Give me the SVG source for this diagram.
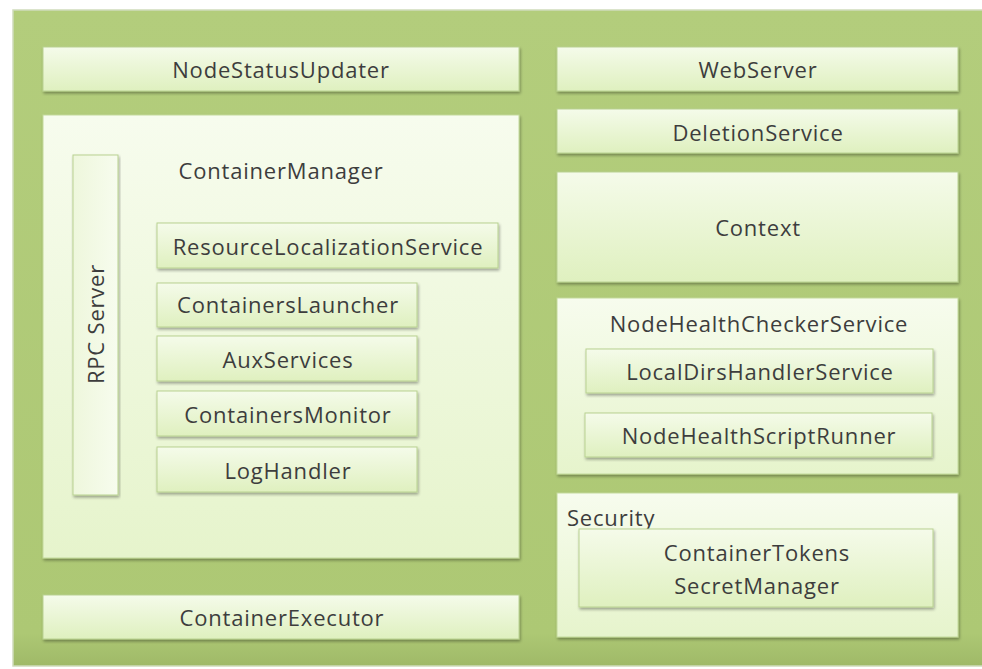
<svg xmlns="http://www.w3.org/2000/svg" width="982" height="669" viewBox="0 0 982 669">
  <defs>
    <linearGradient id="boxFill" x1="0" y1="0" x2="0" y2="1">
      <stop offset="0" stop-color="#f5fbea"/>
      <stop offset="1" stop-color="#dff0bf"/>
    </linearGradient>
    <linearGradient id="bigFill" x1="0" y1="0" x2="0" y2="1">
      <stop offset="0" stop-color="#f7fcee"/>
      <stop offset="1" stop-color="#e6f4cc"/>
    </linearGradient>
    <linearGradient id="vFill" x1="0" y1="0" x2="1" y2="0">
      <stop offset="0" stop-color="#eef7dc"/>
      <stop offset="1" stop-color="#f7fcee"/>
    </linearGradient>
    <linearGradient id="frameFill" x1="0" y1="0" x2="0" y2="1">
      <stop offset="0" stop-color="#b3cd7c"/>
      <stop offset="0.95" stop-color="#adc874"/>
      <stop offset="1" stop-color="#9fb968"/>
    </linearGradient>
    <filter id="shadow" x="-5%" y="-5%" width="110%" height="115%">
      <feGaussianBlur in="SourceAlpha" stdDeviation="1.5"/>
      <feOffset dx="1" dy="2" result="b"/>
      <feComponentTransfer><feFuncA type="linear" slope="0.35"/></feComponentTransfer>
      <feMerge><feMergeNode/><feMergeNode in="SourceGraphic"/></feMerge>
    </filter>
  </defs>
  <style>
    .box { fill: url(#boxFill); stroke: #b9d291; stroke-width: 1; filter: url(#shadow); }
    .big { fill: url(#bigFill); stroke: #c3da9c; stroke-width: 1; filter: url(#shadow); }
    .lbl { font-family: "Open Sans", Lato, "Liberation Sans", sans-serif; font-size: 22px; letter-spacing: 0.8px; fill: #3d3d3d; text-anchor: middle; }
  </style>

  <!-- page background and outer frame -->
  <rect x="0" y="0" width="982" height="669" fill="#ffffff"/>
  <rect x="13" y="10" width="975" height="656" fill="url(#frameFill)" stroke="#cfdcbc" stroke-width="1.5"/>

  <g id="node-status-updater">
    <rect class="box" x="43" y="47" width="476" height="44"/>
    <text class="lbl" x="281" y="78">NodeStatusUpdater</text>
  </g>

  <g id="container-manager">
    <rect class="big" x="43" y="115" width="476" height="443"/>
    <text class="lbl" x="281" y="179">ContainerManager</text>
  </g>

  <g id="rpc-server">
    <rect class="box" x="73" y="155" width="45" height="340" style="fill:url(#vFill)"/>
    <text class="lbl" transform="translate(104,324) rotate(-90)">RPC Server</text>
  </g>

  <g id="resource-localization-service">
    <rect class="box" x="157" y="223" width="341" height="45"/>
    <text class="lbl" x="328" y="255">ResourceLocalizationService</text>
  </g>

  <g id="containers-launcher">
    <rect class="box" x="157" y="283" width="260" height="44"/>
    <text class="lbl" x="288" y="313">ContainersLauncher</text>
  </g>

  <g id="aux-services">
    <rect class="box" x="157" y="336" width="260" height="45"/>
    <text class="lbl" x="288" y="368">AuxServices</text>
  </g>

  <g id="containers-monitor">
    <rect class="box" x="157" y="391" width="260" height="45"/>
    <text class="lbl" x="288" y="423">ContainersMonitor</text>
  </g>

  <g id="log-handler">
    <rect class="box" x="157" y="447" width="260" height="45"/>
    <text class="lbl" x="288" y="479">LogHandler</text>
  </g>

  <g id="container-executor">
    <rect class="box" x="43" y="595" width="476" height="44"/>
    <text class="lbl" x="282" y="626">ContainerExecutor</text>
  </g>

  <g id="web-server">
    <rect class="box" x="557" y="47" width="401" height="44"/>
    <text class="lbl" x="758" y="78">WebServer</text>
  </g>

  <g id="deletion-service">
    <rect class="box" x="557" y="109" width="401" height="44"/>
    <text class="lbl" x="758" y="141">DeletionService</text>
  </g>

  <g id="context">
    <rect class="box" x="557" y="172" width="401" height="110"/>
    <text class="lbl" x="758" y="236">Context</text>
  </g>

  <g id="node-health-checker-service">
    <rect class="big" x="557" y="298" width="401" height="176"/>
    <text class="lbl" x="759" y="332">NodeHealthCheckerService</text>
  </g>

  <g id="local-dirs-handler-service">
    <rect class="box" x="586" y="349" width="347" height="44"/>
    <text class="lbl" x="760" y="380">LocalDirsHandlerService</text>
  </g>

  <g id="node-health-script-runner">
    <rect class="box" x="585" y="413" width="347" height="44"/>
    <text class="lbl" x="759" y="444">NodeHealthScriptRunner</text>
  </g>

  <g id="security">
    <rect class="big" x="557" y="493" width="401" height="144"/>
    <text class="lbl" x="567" y="526" style="text-anchor:start">Security</text>
  </g>

  <g id="container-tokens-secret-manager">
    <rect class="box" x="579" y="529" width="354" height="78"/>
    <text class="lbl" x="757" y="561">ContainerTokens</text>
    <text class="lbl" x="757" y="594">SecretManager</text>
  </g>

  <g id="connectors"></g>
</svg>
